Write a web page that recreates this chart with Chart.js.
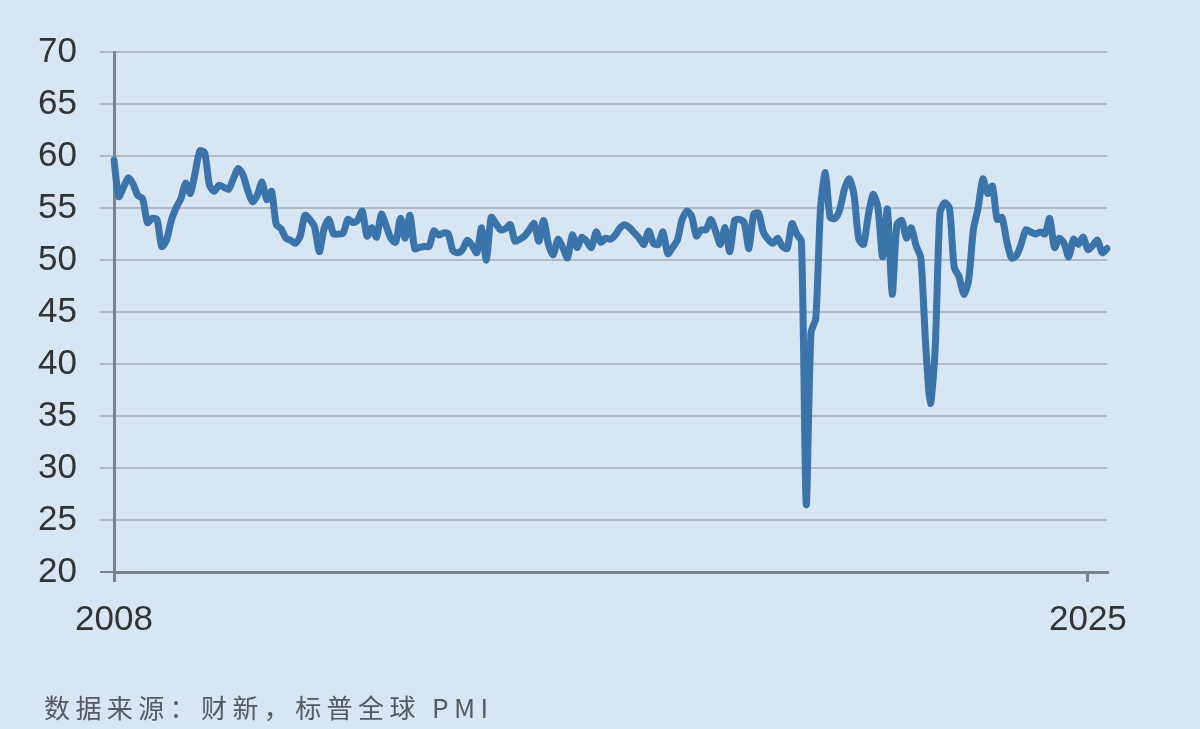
<!DOCTYPE html>
<html><head><meta charset="utf-8">
<script src="https://cdn.jsdelivr.net/npm/chart.js@4"></script>
<style>
html,body{margin:0;padding:0;background:#d8e5f2;}
#wrap{position:relative;width:1200px;height:729px;overflow:hidden;}
#c{position:absolute;left:0;top:0;}
#src{position:absolute;left:44px;top:689px;font-family:"Noto Sans CJK SC","Noto Sans",sans-serif;font-size:26px;letter-spacing:5.4px;color:#555a5f;line-height:36px;white-space:nowrap;}
</style></head>
<body>
<div id="wrap"><canvas id="c" width="1200" height="729"></canvas><div id="src">数据来源：财新，标普全球 PMI</div></div>
<script>
// Caixin China services PMI, monthly
const pmi2008 = [59.6, 56.1, 57.0, 57.9, 57.3, 56.2, 55.9, 53.6, 54.0, 53.9, 51.3, 51.9];
const pmi2009 = [53.8, 55.0, 55.9, 57.4, 56.4, 58.4, 60.5, 60.3, 57.2, 56.6, 57.2, 57.0];
const pmi2010 = [56.8, 57.8, 58.8, 58.2, 56.7, 55.6, 56.2, 57.5, 55.8, 56.6, 53.4, 53.0];
const pmi2011 = [52.1, 51.9, 51.6, 52.3, 54.3, 53.9, 53.2, 50.8, 53.0, 53.9, 52.5, 52.5];
const pmi2012 = [52.6, 53.9, 53.6, 53.8, 54.7, 52.3, 53.1, 52.2, 54.4, 53.3, 52.1, 51.7];
const pmi2013 = [54.0, 52.1, 54.3, 51.1, 51.2, 51.3, 51.3, 52.8, 52.4, 52.6, 52.5, 50.9];
const pmi2014 = [50.7, 51.0, 51.9, 51.4, 50.7, 53.1, 50.0, 54.1, 53.5, 52.9, 53.0, 53.4];
const pmi2015 = [51.8, 52.0, 52.3, 52.9, 53.5, 51.8, 53.8, 51.5, 50.5, 52.0, 51.2, 50.2];
const pmi2016 = [52.4, 51.2, 52.2, 51.8, 51.2, 52.7, 51.7, 52.1, 52.0, 52.4, 53.1, 53.4];
const pmi2017 = [53.1, 52.6, 52.1, 51.5, 52.8, 51.6, 51.5, 52.7, 50.6, 51.2, 51.9, 53.9];
const pmi2018 = [54.7, 54.2, 52.3, 52.9, 52.9, 53.9, 52.8, 51.5, 53.1, 50.8, 53.8, 53.9];
const pmi2019 = [53.6, 51.1, 54.4, 54.5, 52.7, 52.0, 51.6, 52.1, 51.3, 51.1, 53.5, 52.5];
const pmi2020 = [51.8, 26.5, 43.0, 44.4, 55.0, 58.4, 54.1, 54.0, 54.8, 56.8, 57.8, 56.3];
const pmi2021 = [52.0, 51.5, 54.3, 56.3, 55.1, 50.3, 54.9, 46.7, 53.4, 53.8, 52.1, 53.1];
const pmi2022 = [51.4, 50.2, 42.0, 36.2, 41.4, 54.5, 55.5, 55.0, 49.3, 48.4, 46.7, 48.0];
const pmi2023 = [52.9, 55.0, 57.8, 56.4, 57.1, 53.9, 54.1, 51.8, 50.2, 50.4, 51.5, 52.9];
const pmi2024 = [52.7, 52.5, 52.7, 52.5, 54.0, 51.2, 52.1, 51.6, 50.3, 52.0, 51.5, 52.2];
const pmi2025 = [51.0, 51.4, 51.9, 50.7, 51.1];

const years = [2008,2009,2010,2011,2012,2013,2014,2015,2016,2017,2018,2019,2020,2021,2022,2023,2024,2025];
const yearSeries = [pmi2008,pmi2009,pmi2010,pmi2011,pmi2012,pmi2013,pmi2014,pmi2015,pmi2016,pmi2017,pmi2018,pmi2019,pmi2020,pmi2021,pmi2022,pmi2023,pmi2024,pmi2025];
const xTickLabels = ['2008', '2025'];
const yTicks = [20, 25, 30, 35, 40, 45, 50, 55, 60, 65, 70];

const labels = [];
const values = [];
years.forEach((y, k) => {
  yearSeries[k].forEach((v, m) => {
    labels.push(y + '-' + String(m + 1).padStart(2, '0'));
    values.push(v);
  });
});
const xTickIdx = xTickLabels.map(t => labels.indexOf(t + '-01'));

const AXIS = '#7b838b';
const GRID = '#b0bac4';
const TXT = '#333333';

new Chart(document.getElementById('c'), {
  type: 'line',
  data: {
    labels: labels,
    datasets: [{
      data: values,
      borderColor: '#3a74aa',
      borderWidth: 7,
      pointRadius: 0,
      tension: 0.25,
      borderJoinStyle: 'round',
      borderCapStyle: 'round',
      fill: false
    }]
  },
  options: {
    responsive: false,
    animation: false,
    devicePixelRatio: 1,
    layout: { padding: { left: 0, top: 52, right: 93, bottom: 0 } },
    plugins: { legend: { display: false }, tooltip: { enabled: false } },
    scales: {
      x: {
        type: 'category',
        offset: false,
        grid: { drawOnChartArea: false, drawTicks: true, tickLength: 10, color: AXIS, lineWidth: 3 },
        border: { display: true, color: AXIS, width: 3 },
        ticks: {
          autoSkip: false, maxRotation: 0, minRotation: 0, padding: 17,
          color: TXT, font: { family: 'Liberation Sans', size: 35 },
          callback: (v) => labels[v].slice(0, 4)
        },
        afterBuildTicks: (s) => { s.ticks = xTickIdx.map(i => ({ value: i })); },
        afterFit: (s) => { s.height = 157; }
      },
      y: {
        min: 20, max: 70,
        grid: {
          color: (ctx) => (ctx.tick && ctx.tick.value === 20 ? AXIS : GRID),
          lineWidth: 2, tickLength: 14
        },
        border: { display: true, color: AXIS, width: 3 },
        ticks: {
          stepSize: 5, padding: 23, color: TXT,
          font: { family: 'Liberation Sans', size: 35 }
        },
        afterBuildTicks: (s) => { s.ticks = yTicks.map(v => ({ value: v })); },
        afterFit: (s) => { s.width = 114; }
      }
    }
  }
});
</script>
</body></html>
